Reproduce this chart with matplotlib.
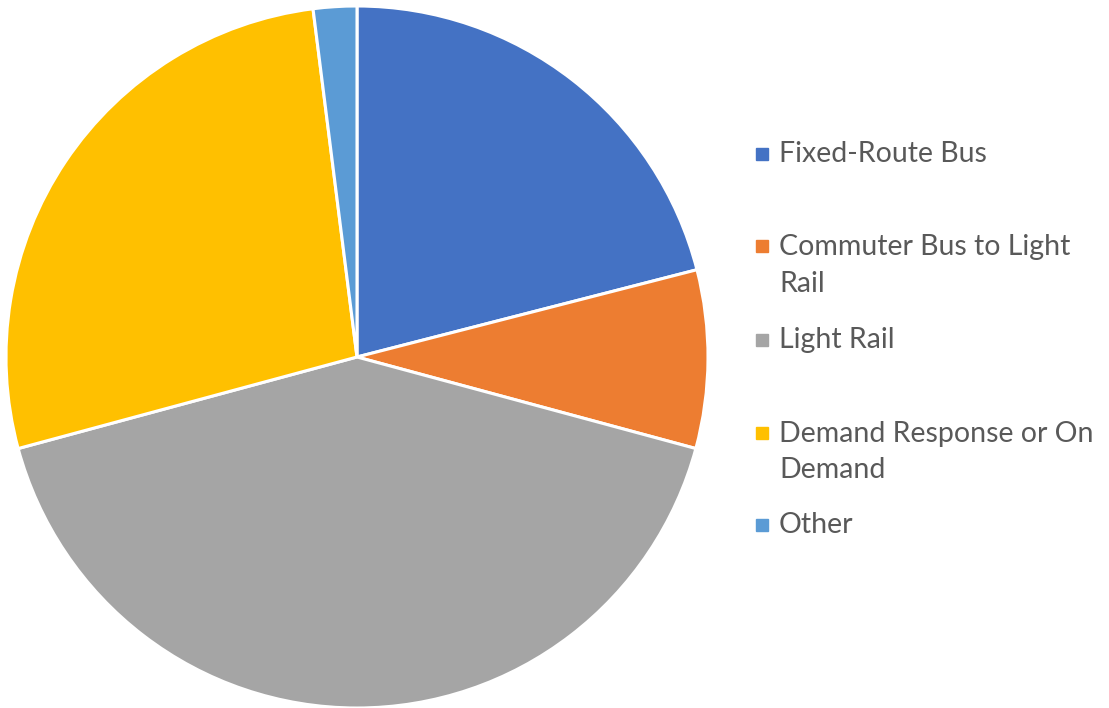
import matplotlib
matplotlib.use("Agg")
import matplotlib.pyplot as plt
from matplotlib.patches import Rectangle

# Datos del gráfico
categorias = ["Fixed-Route Bus", "Commuter Bus to Light Rail", "Light Rail",
              "Demand Response or On Demand", "Other"]
etiquetas = ["Fixed-Route Bus", "Commuter Bus to Light\nRail", "Light Rail",
             "Demand Response or On\nDemand", "Other"]
valores = [21.0, 8.2, 41.6, 27.2, 2.0]
colores = ["#4472C4", "#ED7D31", "#A5A5A5", "#FFC000", "#5B9BD5"]

W, H = 1109, 708
fig = plt.figure(figsize=(W / 100, H / 100), dpi=100)

# Pastel
cx, cy, r = 357, 357, 351
ax = fig.add_axes([(cx - r) / W, (H - cy - r) / H, 2 * r / W, 2 * r / H])
ax.pie(valores, colors=colores, startangle=90, counterclock=False,
       wedgeprops={"edgecolor": "white", "linewidth": 2.2})
ax.set_aspect("equal")
ax.set_xlim(-1, 1)
ax.set_ylim(-1, 1)

# Leyenda manual (posiciones como en Excel)
filas_y = [154, 265.5, 340, 452, 525]
for etiqueta, color, y in zip(etiquetas, colores, filas_y):
    n = etiqueta.count("\n")
    y_top = y - n * 19.5
    fig.patches.append(Rectangle((756 / W, 1 - (y_top + 6) / H), 12 / W, 12 / H,
                                 transform=fig.transFigure, color=color))
    fig.text(779 / W, 1 - y / H, etiqueta, fontsize=20.5, color="#595959",
             family="Lato", va="center", ha="left", linespacing=1.52)

fig.savefig("out.png", dpi=100)
